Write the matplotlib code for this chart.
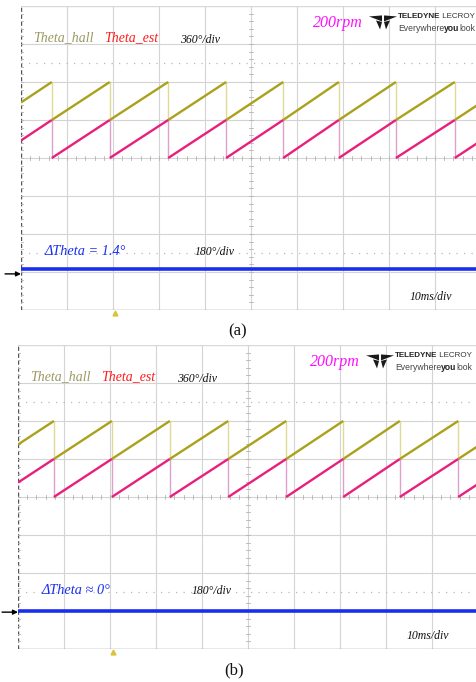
import matplotlib.pyplot as plt
from matplotlib.patches import Polygon

# scope screen: 10 ms/div over 10 divisions, 8 vertical divisions
T_SPAN = 100.0
PX_PER_MS = 4.6
PX_PER_DIV = 38.0

# falling edges of the angle sawtooth (ms)
falls_a = [6.7, 19.3, 32.0, 44.6, 57.0, 69.1, 81.5, 94.3]
falls_b = [7.8, 20.4, 33.0, 45.7, 58.3, 70.7, 83.0, 95.7]
# electrical angle at the left and right screen edges (deg)
theta_start = [166, 137]
theta_end = [164, 123]

# angle error trace
dtheta_deg = [1.4, 0.0]
dtheta_text = [r"ΔTheta = 1.4°", r"ΔTheta ≈ 0°"]
dtheta_gnd = [-2.93, -3.0]      # channel ground level (div)
gnd_arrow = [-3.05, -3.03]      # ground marker on the left edge (div)
trig_ms = [20.4, 20.7]          # trigger marker

ANGLE_SCALE = 360.0   # deg/div
ERR_SCALE = 180.0     # deg/div
HALL_OFS, EST_OFS = 1.0, 0.0

HALL_C, HALL_DROP = "#aaa11c", "#dedb96"
EST_C, EST_DROP = "#e8207c", "#e0a0cc"
BLUE = "#1a2ef0"
SERIF = ["Liberation Serif", "DejaVu Serif"]
SANS = ["Liberation Sans Narrow", "Liberation Sans", "DejaVu Sans"]


def px(dx, dy):
    return dx / PX_PER_MS, -dy / PX_PER_DIV


def draw_grid(ax):
    for i in range(1, 11):
        ax.axvline(i * 10, color="#d4d4d4", lw=0.8, zorder=1)
    for j in range(-3, 4):
        ax.axhline(j, color="#d4d4d4", lw=0.8, zorder=1)
    ax.axhline(4, color="#d8d8d8", lw=1.0, zorder=1)
    ax.axhline(-4, color="#8a8a8a", lw=1.0, zorder=1)
    ax.axvline(0, color="#555555", lw=1.0, ls=(0, (3, 2)), zorder=1)
    for y in (2.5, -2.5):
        ax.axhline(y, color="#b8b8b8", lw=0.9, ls=(0, (1, 5)), zorder=1)
    # minor ticks along the centre cross and left edge
    tx, ty = 0.45, 0.06
    tick_c = "#b4b4b4"
    for k in range(1, 50):
        x = k * 2.0
        ax.plot([x, x], [-ty, ty], color=tick_c, lw=0.6, zorder=1)
    for k in range(-19, 20):
        y = k * 0.2
        ax.plot([50 - tx, 50 + tx], [y, y], color=tick_c, lw=0.6, zorder=1)
        ax.plot([0, tx], [y, y], color=tick_c, lw=0.6, zorder=1)


def draw_saw(ax, falls, th0, th1, ofs, color, drop_color):
    edges = [0.0] + falls + [T_SPAN]
    for i in range(len(edges) - 1):
        a = th0 if i == 0 else 0.0
        b = th1 if i == len(edges) - 2 else 360.0
        ax.plot([edges[i], edges[i + 1]],
                [ofs + a / ANGLE_SCALE, ofs + b / ANGLE_SCALE],
                color=color, lw=1.7, solid_capstyle="butt", zorder=3)
    for f in falls:
        ax.plot([f, f], [ofs, ofs + 1.0], color=drop_color, lw=1.0, zorder=2)


def draw_logo(ax, x0, y0):
    shapes = [
        [(-14, -4), (-1, -5), (-1, 1)],
        [(14, -4), (1, -5), (1, 1)],
        [(-7, 0), (-1, 1.5), (-3, 9)],
        [(7, 0), (1, 1.5), (3, 9)],
    ]
    for s in shapes:
        pts = [(x0 + px(dx, dy)[0], y0 + px(dx, dy)[1]) for dx, dy in s]
        ax.add_patch(Polygon(pts, closed=True, color="#1a1a1a", lw=0, zorder=4))
    tx = x0 + px(15, 0)[0]
    t1 = ax.text(tx, y0 + 0.1, "TELEDYNE", family=SANS, weight="bold",
                 fontsize=5.8, color="#222222", va="center", ha="left")
    ax.annotate(" LECROY", xy=(1, 0.5), xycoords=t1, family=SANS,
                fontsize=5.8, color="#333333", va="center", ha="left")
    t2 = ax.text(tx, y0 - 0.2, "Everywhere", family=SANS, fontsize=6.2,
                 color="#444444", va="center", ha="left")
    t3 = ax.annotate("you", xy=(1, 0.5), xycoords=t2, family=SANS, weight="bold",
                     fontsize=6.2, color="#222222", va="center", ha="left")
    ax.annotate("look", xy=(1, 0.5), xycoords=t3, family=SANS, fontsize=6.2,
                color="#444444", va="center", ha="left")


def draw_panel(ax, i, falls, tag):
    ax.set_xlim(0, T_SPAN)
    ax.set_ylim(-4, 4)
    ax.axis("off")
    draw_grid(ax)

    draw_saw(ax, falls, theta_start[i], theta_end[i], HALL_OFS, HALL_C, HALL_DROP)
    draw_saw(ax, falls, theta_start[i], theta_end[i], EST_OFS, EST_C, EST_DROP)

    level = dtheta_gnd[i] + dtheta_deg[i] / ERR_SCALE
    ax.plot([0, T_SPAN], [level, level], color=BLUE, lw=2.6, zorder=3)

    ax.annotate("", xy=(0, gnd_arrow[i]), xytext=(-11.5, 0),
                textcoords="offset points", annotation_clip=False,
                arrowprops=dict(arrowstyle="-|>", color="black", lw=1.0,
                                mutation_scale=7, shrinkA=0, shrinkB=0))
    ax.plot([trig_ms[i]], [-4.07], marker="^", ms=3.5, color="#d8c43a",
            clip_on=False, zorder=5)

    ax.text(2.6, 3.18, "Theta_hall", family=SERIF, style="italic",
            fontsize=10, color="#9c9862", va="center")
    ax.text(18.0, 3.18, "Theta_est", family=SERIF, style="italic",
            fontsize=10, color="#ff1a1a", va="center")
    ax.text(34.6, 3.1, "360°/div", family=SERIF, style="italic",
            fontsize=8.5, color="#111111", va="center")
    ax.text(63.5, 3.55, "200rpm", family=SERIF, style="italic",
            fontsize=11.5, color="#ff10ff", va="center")
    draw_logo(ax, 78.7, 3.62)

    ax.text(5.2, -2.47, dtheta_text[i], family=SERIF, style="italic",
            fontsize=10.3, color=BLUE, va="center")
    ax.text(37.8, -2.47, "180°/div", family=SERIF, style="italic",
            fontsize=8.5, color="#111111", va="center")
    ax.text(84.5, -3.65, "10ms/div", family=SERIF, style="italic",
            fontsize=8.5, color="#111111", va="center")

    ax.text(47.0, -4.55, tag, family=SERIF, fontsize=12, color="#111111",
            ha="center", va="center", clip_on=False)


W, H = 477, 682
fig = plt.figure(figsize=(W / 100, H / 100), dpi=100)
fig.patch.set_facecolor("white")

panels = [(21, 6, falls_a, "(a)"), (18, 345, falls_b, "(b)")]
for i, (left, top, falls, tag) in enumerate(panels):
    w, h = 10 * 46, 8 * PX_PER_DIV
    ax = fig.add_axes([left / W, 1 - (top + h) / H, w / W, h / H])
    draw_panel(ax, i, falls, tag)

fig.savefig("out.png", dpi=100)
